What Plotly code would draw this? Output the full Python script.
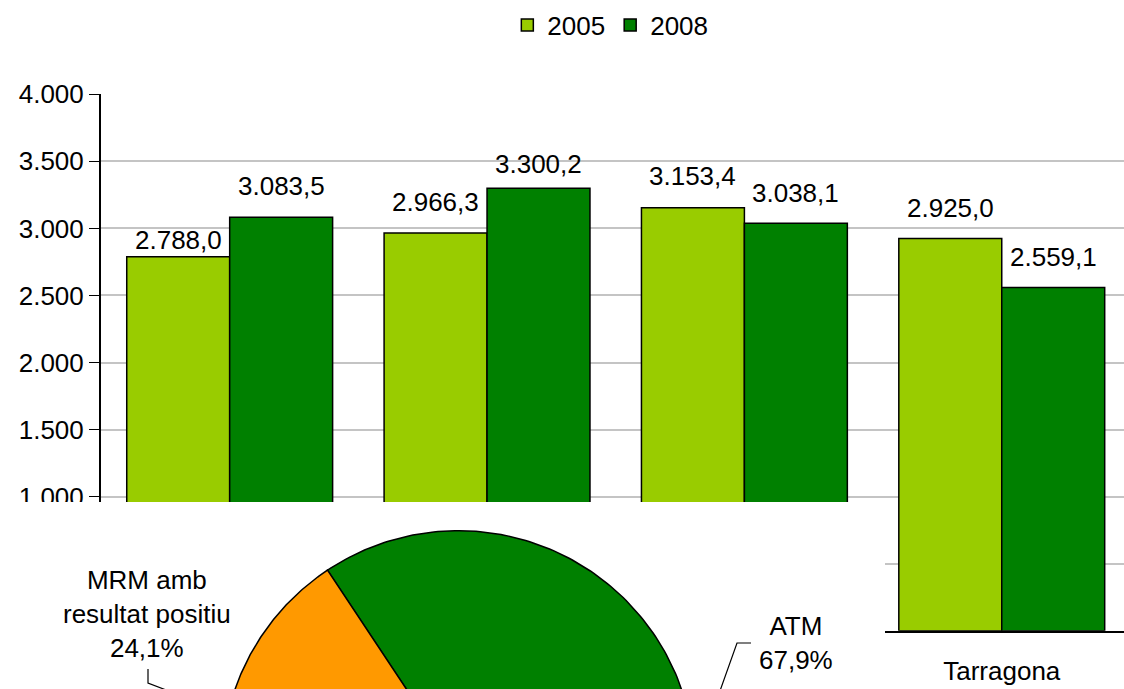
import numpy as np
import plotly.graph_objects as go

# ---------------- data ----------------
categories = ["Barcelona", "Girona", "Lleida", "Tarragona"]
series_names = ["2005", "2008"]
values_2005 = [2788.0, 2966.3, 3153.4, 2925.0]
values_2008 = [3083.5, 3300.2, 3038.1, 2559.1]
y_ticks = [0, 500, 1000, 1500, 2000, 2500, 3000, 3500, 4000]

pie_labels = ["ATM", "MRM amb resultat negatiu", "MRM amb resultat positiu"]
pie_label_lines = ["ATM", "MRM amb<br>resultat negatiu", "MRM amb<br>resultat positiu"]
pie_values = [67.9, 8.0, 24.1]

# ---------------- style ----------------
W, H = 1124, 689
FONT = "Liberation Sans, Arial, sans-serif"
FS = 26
bar_colors = ["#99CC00", "#008000"]
pie_colors = ["#008000", "#99CC00", "#FF9900"]
BARGAP = 0.2

# bar-chart frame in pixels
PLOT_L, PLOT_T, PLOT_B = 101, 94.3, 630.8
X_RANGE = [-0.5, 3.475]
Y_RANGE = [0, 4000]

# pie geometry in pixels
PIE_CX, PIE_CY, PIE_R = 458.3, 767.3, 236.6
PIE_START = -33.57  # degrees, clockwise from 12 o'clock
# white chart area of the pie covering the lower-left of the bar chart
COVER_R, COVER_T = 885, 502

# gap (px) between bar top and label baseline
label_gap = {"2005": [7, 21.6, 22.6, 21.0], "2008": [22, 14.3, 20.7, 21.4]}
BASELINE_PAD = 7.5

# pie label boxes (pixel centres) and leader anchors (pixels)
pie_label_pos = {0: (796, 643), 2: (147, 614)}
pie_leader_px = {0: [(751, 643), (737, 643)], 2: [(148, 669), (148, 683)]}


def fmt(v, dec=1):
    s = f"{v:,.{dec}f}"
    return s.replace(",", "X").replace(".", ",").replace("X", ".")


def px2x(px):
    return (px - PIE_CX) / PIE_R


def py2y(py):
    return (PIE_CY - py) / PIE_R


def xval2px(v):
    return PLOT_L + (v - X_RANGE[0]) / (X_RANGE[1] - X_RANGE[0]) * (W - PLOT_L)


def yval2px(v):
    return PLOT_B - (v - Y_RANGE[0]) / (Y_RANGE[1] - Y_RANGE[0]) * (PLOT_B - PLOT_T)


fig = go.Figure()

xs = np.arange(len(categories))
series_vals = [values_2005, values_2008]
for k, (name, vals) in enumerate(zip(series_names, series_vals)):
    fig.add_trace(go.Bar(
        x=xs, y=vals, name=name,
        marker=dict(color=bar_colors[k], line=dict(color="black", width=1.5)),
        hoverinfo="skip",
    ))

# value labels
nser = len(series_names)
bw = (1 - BARGAP) / nser
for k, (name, vals) in enumerate(zip(series_names, series_vals)):
    off = (k - (nser - 1) / 2) * bw
    for i, v in enumerate(vals):
        fig.add_annotation(
            x=xs[i] + off, y=v, xref="x", yref="y",
            text=fmt(v), showarrow=False,
            xanchor="center", yanchor="bottom",
            yshift=label_gap[name][i] - BASELINE_PAD,
            font=dict(family=FONT, size=FS, color="black"),
        )

# ---------------- pie (drawn on a full-figure hidden subplot) ----------------
# white chart area
fig.add_trace(go.Scatter(
    x=[px2x(-10), px2x(COVER_R), px2x(COVER_R), px2x(-10), px2x(-10)],
    y=[py2y(COVER_T), py2y(COVER_T), py2y(H + 10), py2y(H + 10), py2y(COVER_T)],
    xaxis="x2", yaxis="y2", mode="lines", fill="toself",
    fillcolor="white", line=dict(width=0, color="white"),
    showlegend=False, hoverinfo="skip",
))

fr = np.array(pie_values) / np.sum(pie_values)
edges = PIE_START + 360 * np.concatenate([[0], np.cumsum(fr)])
mids = {}
for i in range(len(pie_values)):
    th = np.radians(np.linspace(edges[i], edges[i + 1], 240))
    px_ = np.concatenate([[0], np.sin(th), [0]])
    py_ = np.concatenate([[0], np.cos(th), [0]])
    fig.add_trace(go.Scatter(
        x=px_, y=py_, xaxis="x2", yaxis="y2", mode="lines", fill="toself",
        fillcolor=pie_colors[i], line=dict(color="black", width=1.5),
        showlegend=False, hoverinfo="skip", name=pie_labels[i],
    ))
    m = np.radians((edges[i] + edges[i + 1]) / 2)
    mids[i] = (np.sin(m), np.cos(m))

for i, (lx, ly) in pie_label_pos.items():
    txt = pie_label_lines[i] + "<br>" + fmt(pie_values[i]) + "%"
    fig.add_annotation(
        x=px2x(lx), y=py2y(ly), xref="x2", yref="y2", text=txt,
        showarrow=False, xanchor="center", yanchor="middle",
        font=dict(family=FONT, size=FS, color="black"),
    )
    pts = pie_leader_px[i]
    lxs = [px2x(p[0]) for p in pts] + [mids[i][0]]
    lys = [py2y(p[1]) for p in pts] + [mids[i][1]]
    fig.add_trace(go.Scatter(
        x=lxs, y=lys, xaxis="x2", yaxis="y2", mode="lines",
        line=dict(color="black", width=1.2),
        showlegend=False, hoverinfo="skip",
    ))

# tick labels that fall under the pie's white chart area are not shown
x_ticktext = [c if xval2px(x) > COVER_R else "" for c, x in zip(categories, xs)]
y_ticktext = [fmt(v, 0) if yval2px(v) < COVER_T + 10 else "" for v in y_ticks]

fig.update_layout(
    width=W, height=H, autosize=False,
    margin=dict(l=0, r=0, t=0, b=0, pad=0),
    paper_bgcolor="white", plot_bgcolor="rgba(0,0,0,0)",
    font=dict(family=FONT, size=FS, color="black"),
    separators=",.",
    barmode="group", bargap=BARGAP, bargroupgap=0,
    hovermode=False,
    showlegend=True,
    legend=dict(
        orientation="h", x=0.543, xanchor="center", y=1 - 25 / H, yanchor="middle",
        font=dict(family=FONT, size=FS, color="black"), bgcolor="rgba(0,0,0,0)",
        itemclick=False, itemdoubleclick=False,
    ),
    xaxis=dict(
        domain=[PLOT_L / W, 1], range=X_RANGE, anchor="y",
        tickvals=list(xs), ticktext=x_ticktext, ticks="",
        showline=True, linecolor="black", linewidth=2,
        showgrid=False, zeroline=False, automargin=False,
        ticklabelstandoff=16, fixedrange=True,
    ),
    yaxis=dict(
        domain=[(H - PLOT_B) / H, (H - PLOT_T) / H], range=Y_RANGE, anchor="x",
        tickvals=y_ticks, ticktext=y_ticktext,
        ticks="outside", ticklen=10, tickwidth=1.5, tickcolor="black",
        showline=True, linecolor="black", linewidth=2,
        showgrid=True, gridcolor="#C4C4C4", gridwidth=2,
        zeroline=False, automargin=False, ticklabelstandoff=0, fixedrange=True,
    ),
    xaxis2=dict(
        domain=[0, 1], range=[px2x(0), px2x(W)], anchor="y2",
        visible=False, fixedrange=True,
    ),
    yaxis2=dict(
        domain=[0, 1], range=[py2y(H), py2y(0)], anchor="x2",
        visible=False, fixedrange=True,
    ),
)

fig.write_html(
    "out.html",
    config={"displayModeBar": False, "staticPlot": True},
    post_script="document.body.style.margin='0';document.body.style.overflow='hidden';",
)
